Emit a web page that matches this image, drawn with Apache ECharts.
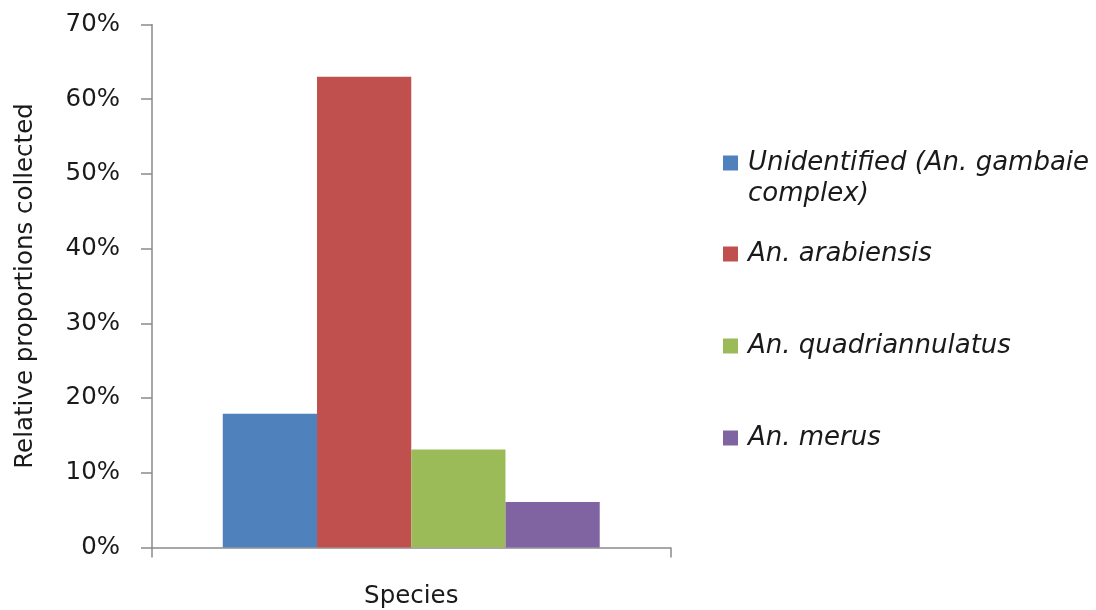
<!DOCTYPE html>
<html>
<head>
<meta charset="utf-8">
<title>Relative proportions collected by species</title>
<script src="https://cdn.jsdelivr.net/npm/echarts@6/dist/echarts.min.js"></script>
<style>
  html, body { margin: 0; padding: 0; background: #ffffff; }
  #chart { width: 1096px; height: 610px; }
</style>
</head>
<body>
<div id="chart"></div>
<script>
// Single category on the x axis; one bar per species
const categories = ['Species'];
const seriesNames = [
  'Unidentified (An. gambaie complex)',
  'An. arabiensis',
  'An. quadriannulatus',
  'An. merus'
];
// Relative proportions collected, in percent
const unidentifiedValues = [17.9];
const arabiensisValues = [63.0];
const quadriannulatusValues = [13.1];
const merusValues = [6.1];
const yTicks = { min: 0, max: 70, interval: 10 };

const palette = ['#4F81BD', '#C0504D', '#9BBB59', '#8064A2'];
const valueLists = [unidentifiedValues, arabiensisValues, quadriannulatusValues, merusValues];

const FONT = 'DejaVu Sans';
const TEXT = '#1a1a1a';
const AXIS = '#8a8a8a';

// Legend rows: icon centres and text lines for each entry
const legendRows = [
  { name: seriesNames[0], lines: ['Unidentified (An. gambaie', 'complex)'], center: 163 },
  { name: seriesNames[1], lines: ['An. arabiensis'], center: 254 },
  { name: seriesNames[2], lines: ['An. quadriannulatus'], center: 346 },
  { name: seriesNames[3], lines: ['An. merus'], center: 438 }
];
const LINE_H = 31;

const legends = legendRows.map(function (row) {
  // Blank lines above balance the wrapped lines below, so the first
  // text line stays level with the legend icon
  const extra = row.lines.length - 1;
  const shown = [];
  for (let k = 0; k < extra; k++) shown.push('');
  const label = shown.concat(row.lines).join('\n');
  const blockH = (row.lines.length + extra) * LINE_H;
  return {
    orient: 'vertical',
    left: 723,
    top: row.center - blockH / 2,
    padding: 0,
    itemWidth: 15,
    itemHeight: 15,
    icon: 'rect',
    selectedMode: false,
    data: [row.name],
    formatter: function () { return label; },
    textStyle: {
      fontFamily: FONT,
      fontStyle: 'italic',
      fontSize: 26,
      lineHeight: LINE_H,
      color: TEXT,
      padding: [0, 0, 0, 5]
    }
  };
});

const chart = echarts.init(document.getElementById('chart'), null, { renderer: 'canvas' });

chart.setOption({
  animation: false,
  backgroundColor: '#ffffff',
  color: palette,
  grid: { left: 152, right: 425.5, top: 24.5, bottom: 62.5, containLabel: false },
  legend: legends,
  xAxis: {
    type: 'category',
    data: categories,
    axisLine: { show: true, lineStyle: { color: AXIS, width: 1.5 } },
    axisTick: { show: true, length: 10, lineStyle: { color: AXIS, width: 1.5 } },
    axisLabel: {
      show: true, margin: 37,
      fontFamily: FONT, fontSize: 24.5, color: TEXT
    },
    splitLine: { show: false }
  },
  yAxis: {
    type: 'value',
    min: yTicks.min,
    max: yTicks.max,
    interval: yTicks.interval,
    name: 'Relative proportions collected',
    nameLocation: 'middle',
    nameGap: 114,
    nameRotate: 90,
    nameTextStyle: { fontFamily: FONT, fontSize: 24.5, color: TEXT },
    axisLine: { show: true, lineStyle: { color: AXIS, width: 1.5 } },
    axisTick: { show: true, inside: false, length: 11, lineStyle: { color: AXIS, width: 1.5 } },
    axisLabel: {
      margin: 32,
      formatter: '{value}%',
      fontFamily: FONT, fontSize: 24.5, color: TEXT
    },
    splitLine: { show: false }
  },
  series: seriesNames.map(function (name, i) {
    return {
      name: name,
      type: 'bar',
      data: valueLists[i],
      barGap: '0%',
      barCategoryGap: '27.3%',
      itemStyle: { color: palette[i] }
    };
  })
});
</script>
</body>
</html>
